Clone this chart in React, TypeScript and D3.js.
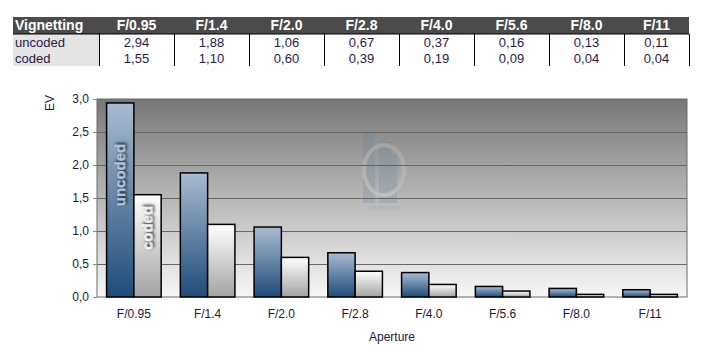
import React, { useEffect, useRef } from "react";
import * as d3 from "d3";

const apertures = ["F/0.95", "F/1.4", "F/2.0", "F/2.8", "F/4.0", "F/5.6", "F/8.0", "F/11"];
const seriesNames = ["uncoded", "coded"];
const uncodedValues = [2.94, 1.88, 1.06, 0.67, 0.37, 0.16, 0.13, 0.11];
const codedValues = [1.55, 1.1, 0.6, 0.39, 0.19, 0.09, 0.04, 0.04];
const yTicks = [0, 0.5, 1, 1.5, 2, 2.5, 3];

const fmt = (v: number, digits: number) => v.toFixed(digits).replace(".", ",");

const App = () => {
  const ref = useRef<SVGSVGElement>(null);

  useEffect(() => {
    const svg = d3.select(ref.current);
    svg.selectAll("*").remove();
    const font = "'Liberation Sans', Arial, sans-serif";

    // ---- table ----
    const tLeft = 13;
    const firstCol = 86;
    const colW = 75;
    const rowH = 16;
    const tTop = 17;
    const headH = 17;
    const tRight = tLeft + firstCol + colW * apertures.length - 10;
    const colX = d3
      .scaleBand()
      .domain(apertures)
      .range([tLeft + firstCol, tLeft + firstCol + colW * apertures.length]);

    const table = svg.append("g");
    table
      .append("rect")
      .attr("x", tLeft)
      .attr("y", tTop)
      .attr("width", tRight - tLeft)
      .attr("height", headH)
      .attr("fill", "#4b4b4b");
    table
      .append("text")
      .attr("x", tLeft + 2)
      .attr("y", tTop + 13)
      .attr("fill", "#fff")
      .attr("font-weight", "bold")
      .attr("font-size", 14)
      .attr("font-family", font)
      .text("Vignetting");
    apertures.forEach((a, i) => {
      const x0 = colX(a)!;
      const x1 = i === apertures.length - 1 ? tRight : x0 + colW;
      table
        .append("text")
        .attr("x", (x0 + x1) / 2)
        .attr("y", tTop + 13)
        .attr("text-anchor", "middle")
        .attr("fill", "#fff")
        .attr("font-weight", "bold")
        .attr("font-size", 14)
        .attr("font-family", font)
        .text(a);
    });

    [uncodedValues, codedValues].forEach((vals, r) => {
      const y0 = tTop + headH + r * rowH;
      table
        .append("rect")
        .attr("x", tLeft)
        .attr("y", y0)
        .attr("width", firstCol)
        .attr("height", rowH)
        .attr("fill", "#e4e4e4");
      table
        .append("text")
        .attr("x", tLeft + 2)
        .attr("y", y0 + 13)
        .attr("fill", "#2a1a4a")
        .attr("font-size", 13)
        .attr("font-family", font)
        .text(seriesNames[r]);
      vals.forEach((v, i) => {
        const x0 = colX(apertures[i])!;
        const x1 = i === apertures.length - 1 ? tRight : x0 + colW;
        table
          .append("text")
          .attr("x", (x0 + x1) / 2)
          .attr("y", y0 + 13)
          .attr("text-anchor", "middle")
          .attr("fill", "#2a1a4a")
          .attr("font-size", 13)
          .attr("font-family", font)
          .text(fmt(v, 2));
      });
    });
    // table borders
    const tBottom = tTop + headH + rowH * 2;
    table
      .append("line")
      .attr("x1", tLeft)
      .attr("x2", tRight)
      .attr("y1", tTop + headH)
      .attr("y2", tTop + headH)
      .attr("stroke", "#000");
    table
      .selectAll(".vline")
      .data(apertures)
      .enter()
      .append("line")
      .attr("x1", (d) => colX(d)! + 0.5)
      .attr("x2", (d) => colX(d)! + 0.5)
      .attr("y1", tTop + headH)
      .attr("y2", tBottom)
      .attr("stroke", "#000");
    table
      .append("line")
      .attr("x1", tRight + 0.5)
      .attr("x2", tRight + 0.5)
      .attr("y1", tTop + headH)
      .attr("y2", tBottom)
      .attr("stroke", "#000");

    // ---- chart ----
    const left = 97;
    const right = 687;
    const top = 99;
    const bottom = 297;

    const x0 = d3.scaleBand().domain(apertures).range([left, right]).paddingInner(0.26).paddingOuter(0.13);
    const x1 = d3.scaleBand().domain(seriesNames).range([0, x0.bandwidth()]);
    const y = d3.scaleLinear().domain([0, 3]).range([bottom, top]);

    const defs = svg.append("defs");
    const bg = defs.append("linearGradient").attr("id", "bg").attr("x1", 0).attr("y1", 0).attr("x2", 0).attr("y2", 1);
    bg.append("stop").attr("offset", 0).attr("stop-color", "#777777");
    bg.append("stop").attr("offset", 1).attr("stop-color", "#f7f7f7");
    const gu = defs.append("linearGradient").attr("id", "gu").attr("x1", 0).attr("y1", 0).attr("x2", 0).attr("y2", 1);
    gu.append("stop").attr("offset", 0).attr("stop-color", "#a9bbd1");
    gu.append("stop").attr("offset", 1).attr("stop-color", "#1e4c7a");
    const gc = defs.append("linearGradient").attr("id", "gc").attr("x1", 0).attr("y1", 0).attr("x2", 0).attr("y2", 1);
    gc.append("stop").attr("offset", 0).attr("stop-color", "#ffffff");
    gc.append("stop").attr("offset", 1).attr("stop-color", "#a3a3a3");
    const sh = defs.append("filter").attr("id", "sh").attr("x", "-30%").attr("y", "-30%").attr("width", "160%").attr("height", "160%");
    sh.append("feDropShadow").attr("dx", 1.5).attr("dy", 1.5).attr("stdDeviation", 1.5).attr("flood-color", "#111").attr("flood-opacity", 1);

    svg
      .append("rect")
      .attr("x", left)
      .attr("y", top)
      .attr("width", right - left)
      .attr("height", bottom - top)
      .attr("fill", "url(#bg)")
      .attr("stroke", "#6a6a6a");

    // watermark
    const wm = svg.append("g").attr("opacity", 0.22);
    wm.append("rect").attr("x", 363).attr("y", 131).attr("width", 12).attr("height", 72).attr("fill", "#5d7fa3");
    wm.append("rect").attr("x", 379).attr("y", 142).attr("width", 12).attr("height", 61).attr("fill", "#5d7fa3");
    wm.append("rect").attr("x", 391).attr("y", 155).attr("width", 6).attr("height", 48).attr("fill", "#5d7fa3");
    wm.append("ellipse").attr("cx", 384).attr("cy", 170).attr("rx", 20).attr("ry", 25).attr("fill", "none").attr("stroke", "#ddd").attr("stroke-width", 4);
    wm.append("text").attr("x", 385).attr("y", 210).attr("text-anchor", "middle").attr("font-size", 7).attr("font-family", font).attr("fill", "#5d7fa3").text("photozone");

    // gridlines
    svg
      .append("g")
      .selectAll("line")
      .data(yTicks.filter((t) => t > 0 && t < 3))
      .enter()
      .append("line")
      .attr("x1", left)
      .attr("x2", right)
      .attr("y1", (d) => Math.round(y(d)) + 0.5)
      .attr("y2", (d) => Math.round(y(d)) + 0.5)
      .attr("stroke", "#666")
      .attr("stroke-width", 1);

    // bars
    const groups = svg
      .append("g")
      .selectAll("g")
      .data(apertures.map((a, i) => ({ a, vals: [uncodedValues[i], codedValues[i]] })))
      .enter()
      .append("g")
      .attr("transform", (d) => `translate(${x0(d.a)},0)`);
    groups
      .selectAll("rect")
      .data((d) => d.vals.map((v, j) => ({ v, s: seriesNames[j] })))
      .enter()
      .append("rect")
      .attr("x", (d) => x1(d.s)!)
      .attr("y", (d) => y(d.v))
      .attr("width", x1.bandwidth())
      .attr("height", (d) => bottom - y(d.v))
      .attr("fill", (d) => (d.s === "uncoded" ? "url(#gu)" : "url(#gc)"))
      .attr("stroke", "#000")
      .attr("stroke-width", 1.5);

    // series labels inside the first group
    const firstX = x0(apertures[0])!;
    [
      { s: "uncoded", cy: 175, fill: "#b4c4d8" },
      { s: "coded", cy: 228, fill: "#f2f2f2" },
    ].forEach((d) => {
      const cx = firstX + x1(d.s)! + x1.bandwidth() / 2;
      svg
        .append("text")
        .attr("transform", `translate(${cx + 5},${d.cy}) rotate(-90)`)
        .attr("text-anchor", "middle")
        .attr("fill", d.fill)
        .attr("font-weight", "bold")
        .attr("font-size", 15)
        .attr("font-family", font)
        .attr("filter", "url(#sh)")
        .text(d.s);
    });

    // y axis labels
    svg
      .append("g")
      .selectAll("text")
      .data(yTicks)
      .enter()
      .append("text")
      .attr("x", left - 8)
      .attr("y", (d) => y(d) + 4)
      .attr("text-anchor", "end")
      .attr("font-size", 12)
      .attr("font-family", font)
      .attr("fill", "#1a1a3a")
      .text((d) => fmt(d, 1));
    svg
      .append("g")
      .selectAll("line")
      .data(yTicks)
      .enter()
      .append("line")
      .attr("x1", left - 4)
      .attr("x2", left)
      .attr("y1", (d) => Math.round(y(d)) + 0.5)
      .attr("y2", (d) => Math.round(y(d)) + 0.5)
      .attr("stroke", "#888");

    svg
      .append("text")
      .attr("transform", `translate(${54},${103}) rotate(-90)`)
      .attr("text-anchor", "middle")
      .attr("font-size", 12)
      .attr("font-family", font)
      .attr("fill", "#1a1a3a")
      .text("EV");

    // x axis labels
    svg
      .append("g")
      .selectAll("text")
      .data(apertures)
      .enter()
      .append("text")
      .attr("x", (d) => x0(d)! + x0.bandwidth() / 2)
      .attr("y", 318)
      .attr("text-anchor", "middle")
      .attr("font-size", 12)
      .attr("font-family", font)
      .attr("fill", "#1a1a3a")
      .text((d) => d);

    svg
      .append("text")
      .attr("x", (left + right) / 2)
      .attr("y", 341)
      .attr("text-anchor", "middle")
      .attr("font-size", 12)
      .attr("font-family", font)
      .attr("fill", "#1a1a3a")
      .text("Aperture");
  }, []);

  return (
    <svg
      ref={ref}
      width={706}
      height={355}
      style={{ position: "absolute", left: 0, top: 0, background: "#fff" }}
    />
  );
};

export default App;
